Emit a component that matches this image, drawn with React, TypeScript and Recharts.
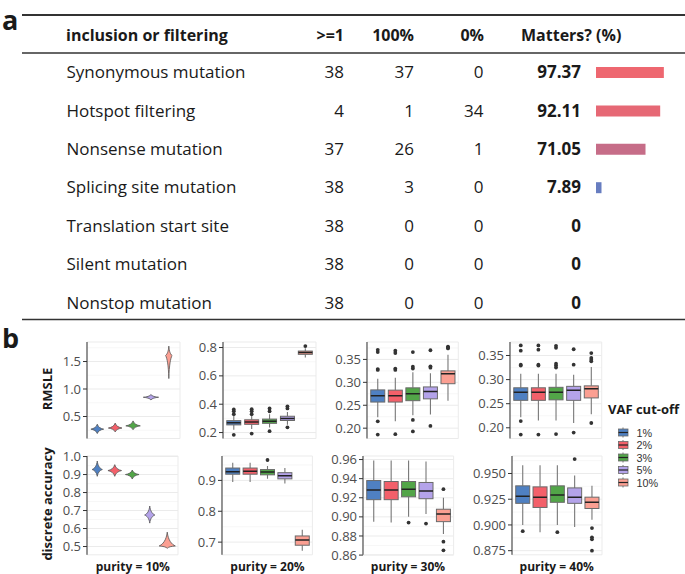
import React from 'react';
import { ComposedChart, BarChart, Bar, Cell, XAxis, YAxis, CartesianGrid } from 'recharts';

// ---- panel a: the filtering table ----
const rowLabels = [
  'Synonymous mutation',
  'Hotspot filtering',
  'Nonsense mutation',
  'Splicing site mutation',
  'Translation start site',
  'Silent mutation',
  'Nonstop mutation',
];
const atLeastOne = [38, 4, 37, 38, 38, 38, 38];
const allSamples = [37, 1, 26, 3, 0, 0, 0];
const noSamples = [0, 34, 1, 0, 0, 0, 0];
const matters = [97.37, 92.11, 71.05, 7.89, 0, 0, 0];
const mattersText = ['97.37', '92.11', '71.05', '7.89', '0', '0', '0'];

// ---- panel b: VAF cut-off comparison ----
const cutoffs = ['1%', '2%', '3%', '5%', '10%'];
const cutoffColors = ['#4F80C2', '#F3606A', '#52A548', '#B4A3EA', '#FB9F92'];
const purities = ['purity = 10%', 'purity = 20%', 'purity = 30%', 'purity = 40%'];

// violins: [low, mode, high, relative width]
const rmsle10 = [
  [0.19, 0.27, 0.36, 0.75],
  [0.22, 0.29, 0.38, 0.8],
  [0.26, 0.33, 0.42, 0.85],
  [0.8, 0.85, 0.9, 0.9],
  [1.19, 1.61, 1.78, 0.38],
];
const accuracy10 = [
  [0.89, 0.928, 0.975, 0.6],
  [0.89, 0.922, 0.955, 0.8],
  [0.875, 0.9, 0.925, 0.8],
  [0.63, 0.675, 0.725, 0.6],
  [0.49, 0.503, 0.58, 0.95],
];

// boxes: [whisker low, q1, median, q3, whisker high, outliers]
const rmsle20: any[] = [
  [0.22, 0.254, 0.27, 0.284, 0.32, [0.33, 0.35, 0.363, 0.184]],
  [0.225, 0.258, 0.275, 0.29, 0.325, [0.33, 0.35, 0.365, 0.193]],
  [0.235, 0.265, 0.28, 0.295, 0.33, [0.35, 0.37, 0.21]],
  [0.255, 0.285, 0.3, 0.315, 0.345, [0.37, 0.385, 0.237]],
  [0.73, 0.752, 0.765, 0.775, 0.795, [0.81]],
];
const rmsle30: any[] = [
  [0.224, 0.257, 0.271, 0.2835, 0.308, [0.371, 0.366, 0.329, 0.327, 0.215, 0.186]],
  [0.215, 0.257, 0.271, 0.283, 0.31, [0.369, 0.364, 0.33, 0.327, 0.187]],
  [0.228, 0.26, 0.275, 0.288, 0.322, [0.366, 0.334, 0.33, 0.218, 0.193]],
  [0.23, 0.264, 0.28, 0.29, 0.32, [0.37, 0.335, 0.332, 0.205]],
  [0.26, 0.297, 0.319, 0.325, 0.36, [0.378, 0.376, 0.374]],
];
const rmsle40: any[] = [
  [0.222, 0.257, 0.274, 0.283, 0.312, [0.371, 0.36, 0.331, 0.329, 0.214, 0.186]],
  [0.215, 0.257, 0.274, 0.283, 0.312, [0.371, 0.362, 0.331, 0.329, 0.186]],
  [0.215, 0.258, 0.274, 0.284, 0.312, [0.37, 0.366, 0.333, 0.329, 0.325, 0.187]],
  [0.21, 0.257, 0.278, 0.286, 0.31, [0.363, 0.331, 0.19]],
  [0.228, 0.262, 0.281, 0.287, 0.326, [0.355, 0.345, 0.341, 0.338, 0.21]],
];
const accuracy20: any[] = [
  [0.895, 0.92, 0.928, 0.94, 0.957, []],
  [0.895, 0.92, 0.93, 0.94, 0.957, []],
  [0.905, 0.918, 0.927, 0.935, 0.947, [0.966]],
  [0.89, 0.905, 0.915, 0.925, 0.94, []],
  [0.672, 0.69, 0.707, 0.72, 0.74, []],
];
const accuracy30: any[] = [
  [0.895, 0.918, 0.928, 0.938, 0.959, []],
  [0.894, 0.918, 0.928, 0.937, 0.959, []],
  [0.9, 0.921, 0.929, 0.937, 0.959, [0.894]],
  [0.903, 0.919, 0.927, 0.936, 0.958, [0.893]],
  [0.882, 0.895, 0.903, 0.908, 0.92, [0.929, 0.874, 0.865]],
];
const accuracy40: any[] = [
  [0.9, 0.921, 0.928, 0.938, 0.958, [0.894]],
  [0.893, 0.917, 0.927, 0.937, 0.958, []],
  [0.9, 0.922, 0.929, 0.938, 0.958, [0.893]],
  [0.898, 0.921, 0.927, 0.936, 0.948, [0.964]],
  [0.905, 0.916, 0.922, 0.927, 0.938, [0.897, 0.888, 0.886, 0.875]],
];

const FONT = "'Open Sans', sans-serif";
const ROW0 = 71.7;
const ROWH = 38.4;

const mattersColor = (v: number) => {
  const t = v / 100;
  const a = [91, 127, 199];
  const b = [242, 102, 110];
  const c = a.map((s, i) => Math.round(s + (b[i] - s) * t));
  return `rgb(${c[0]},${c[1]},${c[2]})`;
};

const boxRows = (data: any[]) =>
  data.map((d, i) => {
    const out: number[] = d[5];
    return {
      x: i + 1,
      wlo: d[0], q1: d[1], med: d[2], q3: d[3], whi: d[4], out,
      lo: Math.min(d[0], ...out),
      hi: Math.max(d[4], ...out),
      color: cutoffColors[i],
    };
  });

const violinRows = (data: number[][]) =>
  data.map((d, i) => ({ x: i + 1, lo: d[0], mode: d[1], hi: d[2], rel: d[3], color: cutoffColors[i] }));

const BoxShape = (props: any) => {
  const { x, y, width, height, payload } = props;
  if (!payload) return null;
  const top = Math.min(y, y + height);
  const h = Math.abs(height);
  const py = (v: number) => top + ((payload.hi - v) / (payload.hi - payload.lo)) * h;
  const cx = x + width / 2;
  return (
    <g>
      <line x1={cx} x2={cx} y1={py(payload.whi)} y2={py(payload.q3)} stroke="#777" strokeWidth={1.1} />
      <line x1={cx} x2={cx} y1={py(payload.q1)} y2={py(payload.wlo)} stroke="#777" strokeWidth={1.1} />
      <rect x={x} y={py(payload.q3)} width={width} height={py(payload.q1) - py(payload.q3)}
        fill={payload.color} stroke="#6a6a6a" strokeWidth={1} />
      <line x1={x} x2={x + width} y1={py(payload.med)} y2={py(payload.med)} stroke="#222" strokeWidth={1.5} />
      {payload.out.map((o: number, i: number) => (
        <circle key={i} cx={cx} cy={py(o)} r={1.9} fill="#333" />
      ))}
    </g>
  );
};

const ViolinShape = (props: any) => {
  const { x, y, width, height, payload } = props;
  if (!payload) return null;
  const top = Math.min(y, y + height);
  const h = Math.abs(height);
  const py = (v: number) => top + ((payload.hi - v) / (payload.hi - payload.lo)) * h;
  const cx = x + width / 2;
  const hw = (width / 2) * payload.rel;
  const yT = py(payload.hi);
  const yM = py(payload.mode);
  const yB = py(payload.lo);
  const d = [
    `M${cx},${yT}`,
    `C${cx + hw * 0.12},${yT + (yM - yT) * 0.6} ${cx + hw * 0.55},${yM - (yM - yT) * 0.12} ${cx + hw},${yM}`,
    `C${cx + hw * 0.55},${yM + (yB - yM) * 0.12} ${cx + hw * 0.12},${yB - (yB - yM) * 0.6} ${cx},${yB}`,
    `C${cx - hw * 0.12},${yB - (yB - yM) * 0.6} ${cx - hw * 0.55},${yM + (yB - yM) * 0.12} ${cx - hw},${yM}`,
    `C${cx - hw * 0.55},${yM - (yM - yT) * 0.12} ${cx - hw * 0.12},${yT + (yM - yT) * 0.6} ${cx},${yT}`,
    'Z',
  ].join(' ');
  return <path d={d} fill={payload.color} stroke="#555" strokeWidth={0.8} />;
};

const panels = [
  { rect: [87, 341.5, 180, 438], domain: [0.1, 1.855], ticks: [0.5, 1, 1.5], minor: [0.25, 0.75, 1.25, 1.75], digits: 1, rows: violinRows(rmsle10), violin: true },
  { rect: [223, 341.5, 316, 438], domain: [0.158, 0.839], ticks: [0.2, 0.4, 0.6, 0.8], minor: [0.3, 0.5, 0.7], digits: 1, rows: boxRows(rmsle20) },
  { rect: [367, 341.5, 458.3, 438], domain: [0.1775, 0.388], ticks: [0.2, 0.25, 0.3, 0.35], minor: [0.225, 0.275, 0.325, 0.375], digits: 2, rows: boxRows(rmsle30) },
  { rect: [510, 341.5, 601.7, 438], domain: [0.1778, 0.378], ticks: [0.2, 0.25, 0.3, 0.35], minor: [0.225, 0.275, 0.325, 0.375], digits: 2, rows: boxRows(rmsle40) },
  { rect: [87.3, 455.5, 178.3, 554.3], domain: [0.454, 1.003], ticks: [0.5, 0.6, 0.7, 0.8, 0.9, 1.0], minor: [0.55, 0.65, 0.75, 0.85, 0.95], digits: 1, rows: violinRows(accuracy10), violin: true },
  { rect: [222.3, 455.5, 312.7, 554.3], domain: [0.659, 0.979], ticks: [0.7, 0.8, 0.9], minor: [0.75, 0.85, 0.95], digits: 1, rows: boxRows(accuracy20) },
  { rect: [362.7, 455.5, 453.3, 554.3], domain: [0.8603, 0.9637], ticks: [0.86, 0.88, 0.9, 0.92, 0.94, 0.96], minor: [0.87, 0.89, 0.91, 0.93, 0.95], digits: 2, rows: boxRows(accuracy30) },
  { rect: [511.7, 455.5, 601.7, 554.3], domain: [0.871, 0.967], ticks: [0.875, 0.9, 0.925, 0.95], minor: [0.8875, 0.9125, 0.9375, 0.9625], digits: 3, rows: boxRows(accuracy40) },
];

const YW = 44;
const PT = 10;
const PR = 4;
const PB = 10;

const Panel = ({ p }: { p: any }) => {
  const [x0, y0, x1, y1] = p.rect;
  const w = x1 - x0;
  const h = y1 - y0;
  return (
    <div style={{ position: 'absolute', left: x0 - YW, top: y0 - PT }}>
      <ComposedChart width={w + YW + PR} height={h + PT + PB} data={p.rows}
        margin={{ top: PT, right: PR, bottom: PB, left: 0 }}>
        <CartesianGrid horizontalValues={p.minor} vertical={false} stroke="#F3F3F3" strokeWidth={0.7} />
        <CartesianGrid stroke="#EBEBEB" strokeWidth={1} />
        <XAxis type="number" dataKey="x" domain={[0.4, 5.6]} ticks={[1, 2, 3, 4, 5]} allowDataOverflow
          tick={false} tickLine={false} height={0} axisLine={{ stroke: '#333' }} />
        <YAxis type="number" domain={p.domain} ticks={p.ticks} allowDataOverflow interval={0} width={YW}
          tickSize={4} tickMargin={2} tickFormatter={(v: number) => v.toFixed(p.digits)}
          tick={{ fill: '#4D4D4D', fontSize: 13, fontFamily: FONT }}
          axisLine={{ stroke: '#333' }} tickLine={{ stroke: '#333' }} />
        <Bar dataKey={(d: any) => [d.lo, d.hi]} barSize={p.violin ? 17 : 14}
          shape={p.violin ? ViolinShape : BoxShape} isAnimationActive={false} />
      </ComposedChart>
    </div>
  );
};

const mattersData = rowLabels.map((label, i) => ({ label, value: matters[i] }));

export default function App() {
  const txt = { fontFamily: FONT, fill: '#1a1a1a' };
  return (
    <div style={{ position: 'absolute', left: 0, top: 0, width: 685, height: 574, background: '#fff', overflow: 'hidden' }}>
      <svg width={685} height={574} style={{ position: 'absolute', left: 0, top: 0 }}>
        <text x={2} y={19} fontSize={27} fontWeight="bold" dominantBaseline="central" {...txt}>a</text>
        <text x={2} y={337} fontSize={27} fontWeight="bold" dominantBaseline="central" {...txt}>b</text>

        <line x1={22} x2={685} y1={15} y2={15} stroke="#333" strokeWidth={2} />
        <line x1={22} x2={685} y1={53} y2={53} stroke="#333" strokeWidth={1.5} />
        <line x1={22} x2={685} y1={319.5} y2={319.5} stroke="#333" strokeWidth={1.5} />

        <g fontSize={16} fontWeight="bold" {...txt}>
          <text x={66} y={35} dominantBaseline="central">inclusion or filtering</text>
          <text x={344} y={35} textAnchor="end" dominantBaseline="central">&gt;=1</text>
          <text x={414} y={35} textAnchor="end" dominantBaseline="central">100%</text>
          <text x={484} y={35} textAnchor="end" dominantBaseline="central">0%</text>
          <text x={521} y={35} dominantBaseline="central">Matters? (%)</text>
        </g>

        {rowLabels.map((lab, i) => {
          const cy = ROW0 + i * ROWH;
          return (
            <g key={lab} fontSize={17} {...txt}>
              <text x={66.5} y={cy} dominantBaseline="central">{lab}</text>
              <text x={344} y={cy} textAnchor="end" dominantBaseline="central">{atLeastOne[i]}</text>
              <text x={414} y={cy} textAnchor="end" dominantBaseline="central">{allSamples[i]}</text>
              <text x={483.5} y={cy} textAnchor="end" dominantBaseline="central">{noSamples[i]}</text>
              <text x={581} y={cy} textAnchor="end" dominantBaseline="central" fontWeight="bold">{mattersText[i]}</text>
            </g>
          );
        })}

        <text transform="translate(47,389) rotate(-90)" textAnchor="middle" dominantBaseline="central"
          fontSize={13} fontWeight="bold" {...txt}>RMSLE</text>
        <text transform="translate(47,504) rotate(-90)" textAnchor="middle" dominantBaseline="central"
          fontSize={13} fontWeight="bold" {...txt}>discrete accuracy</text>

        {purities.map((lab, i) => {
          const r = panels[4 + i].rect;
          return (
            <text key={lab} x={(r[0] + r[2]) / 2} y={566.5} textAnchor="middle" dominantBaseline="central"
              fontSize={12} fontWeight="bold" {...txt}>{lab}</text>
          );
        })}

        <text x={608} y={409} dominantBaseline="central" fontSize={13} fontWeight="bold" {...txt}>VAF cut-off</text>
        {cutoffs.map((c, i) => {
          const cy = 432.5 + i * 12.5;
          return (
            <g key={c}>
              <line x1={623} x2={623} y1={cy - 5} y2={cy + 5} stroke="#777" strokeWidth={1} />
              <rect x={618.5} y={cy - 3.5} width={9.5} height={7} fill={cutoffColors[i]} stroke="#6a6a6a" strokeWidth={0.8} />
              <line x1={618.5} x2={628} y1={cy} y2={cy} stroke="#222" strokeWidth={1.2} />
              <text x={636.5} y={cy} dominantBaseline="central" fontSize={10.8}
                fontFamily="'Liberation Sans', Arial, sans-serif" fill="#333">{c}</text>
            </g>
          );
        })}
      </svg>

      <div style={{ position: 'absolute', left: 596, top: ROW0 - ROWH / 2 }}>
        <BarChart width={69.7} height={ROWH * 7} data={mattersData} layout="vertical"
          margin={{ top: 0, right: 0, bottom: 0, left: 0 }}>
          <XAxis type="number" domain={[0, 100]} hide />
          <YAxis type="category" dataKey="label" hide />
          <Bar dataKey="value" barSize={11} isAnimationActive={false}>
            {mattersData.map((d) => (
              <Cell key={d.label} fill={mattersColor(d.value)} />
            ))}
          </Bar>
        </BarChart>
      </div>

      {panels.map((p, i) => (
        <Panel key={i} p={p} />
      ))}
    </div>
  );
}
